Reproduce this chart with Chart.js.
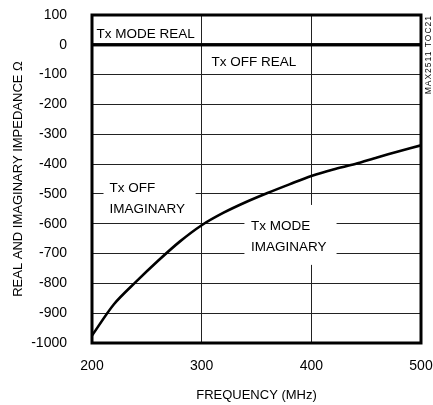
<!DOCTYPE html>
<html>
<head>
<meta charset="utf-8">
<script src="https://cdn.jsdelivr.net/npm/chart.js@4/dist/chart.umd.min.js"></script>
<style>
  html, body { margin: 0; padding: 0; background: #fff; }
  #wrap { width: 433px; height: 405px; }
</style>
</head>
<body>
<div id="wrap"><canvas id="chart" width="433" height="405"></canvas></div>
<script>
// frequency in MHz
const freq = [200, 220, 240, 260, 280, 300, 320, 340, 360, 380, 400, 420, 440, 460, 480, 500];
// imaginary impedance (ohm), same curve for Tx mode / Tx off
const imagOhm = [-975, -870, -795, -725, -660, -605, -563, -528, -497, -468, -440, -418, -400, -378, -357, -337];
// real impedance (ohm)
const realFreq = [200, 500];
const realOhm = [0, 0];
const xTicks = [200, 300, 400, 500];
const yMin = -1000, yMax = 100;

const FONT = "'Liberation Sans', Arial, sans-serif";

// labels placed in data units
const notes = [
  { lines: ["Tx MODE REAL"], x: 204, y: 37 },
  { lines: ["Tx OFF REAL"], x: 309, y: -57 },
  { lines: ["Tx OFF", "IMAGINARY"], x: 216, y: -480, box: [210.5, 294.5, -445, -592] },
  { lines: ["Tx MODE", "IMAGINARY"], x: 345, y: -610, box: [339, 423, -537, -738] }
];

const notesPlugin = {
  id: "notes",
  beforeDatasetsDraw(chart) {
    const { ctx, scales: { x, y } } = chart;
    ctx.save();
    ctx.fillStyle = "#fff";
    notes.forEach(n => {
      if (!n.box) return;
      const l = x.getPixelForValue(n.box[0]), r = x.getPixelForValue(n.box[1]);
      const t = y.getPixelForValue(n.box[2]), b = y.getPixelForValue(n.box[3]);
      ctx.fillRect(l, t, r - l, b - t);
    });
    ctx.restore();
  },
  afterDatasetsDraw(chart) {
    const { ctx, chartArea: a, scales: { x, y } } = chart;
    ctx.save();
    ctx.fillStyle = "#000";
    ctx.font = "13.5px " + FONT;
    ctx.textBaseline = "middle";
    ctx.textAlign = "left";
    notes.forEach(n => {
      const px = x.getPixelForValue(n.x);
      const py = y.getPixelForValue(n.y);
      n.lines.forEach((s, i) => ctx.fillText(s, px, py + i * 21));
    });
    // frame
    ctx.lineWidth = 3;
    ctx.strokeStyle = "#000";
    ctx.strokeRect(a.left, a.top, a.right - a.left, a.bottom - a.top);
    // side code
    ctx.translate(431, 15);
    ctx.rotate(-Math.PI / 2);
    ctx.font = "8.5px " + FONT;
    ctx.letterSpacing = "1px";
    ctx.textAlign = "right";
    ctx.textBaseline = "alphabetic";
    ctx.fillText("MAX2511 TOC21", 0, 0);
    ctx.restore();
  }
};

new Chart(document.getElementById("chart"), {
  type: "line",
  data: {
    datasets: [
      {
        label: "Tx MODE REAL",
        data: realFreq.map((f, i) => ({ x: f, y: realOhm[i] })),
        borderColor: "#000",
        borderWidth: 3,
        pointRadius: 0
      },
      {
        label: "Tx OFF REAL",
        data: realFreq.map((f, i) => ({ x: f, y: realOhm[i] })),
        borderColor: "#000",
        borderWidth: 3,
        pointRadius: 0
      },
      {
        label: "IMAGINARY",
        data: freq.map((f, i) => ({ x: f, y: imagOhm[i] })),
        borderColor: "#000",
        borderWidth: 2.6,
        pointRadius: 0,
        tension: 0.3
      }
    ]
  },
  options: {
    responsive: false,
    animation: false,
    layout: { padding: { left: 0, right: 12, top: 15, bottom: 0 } },
    plugins: { legend: { display: false }, tooltip: { enabled: false } },
    scales: {
      x: {
        type: "linear",
        min: 200,
        max: 500,
        afterBuildTicks: s => { s.ticks = xTicks.map(v => ({ value: v })); },
        afterFit: s => { s.height = 62; s.paddingLeft = 0; s.paddingRight = 0; },
        grid: { color: "#222", lineWidth: 1, drawTicks: false },
        border: { display: false },
        ticks: { color: "#000", font: { family: FONT, size: 14 }, padding: 15, callback: v => String(v) },
        title: { display: true, text: "FREQUENCY (MHz)", color: "#000", font: { family: FONT, size: 13 }, padding: { bottom: 2 } }
      },
      y: {
        min: yMin,
        max: yMax,
        afterFit: s => { s.width = 92; s.paddingTop = 0; s.paddingBottom = 0; },
        grid: { color: "#222", lineWidth: 1, drawTicks: false },
        border: { display: false },
        ticks: { stepSize: 100, color: "#000", font: { family: FONT, size: 14 }, padding: 25, callback: v => String(v) },
        title: { display: true, text: "REAL AND IMAGINARY IMPEDANCE \u03A9", color: "#000", font: { family: FONT, size: 13 }, padding: { top: 11 } }
      }
    }
  },
  plugins: [notesPlugin]
});
</script>
</body>
</html>
